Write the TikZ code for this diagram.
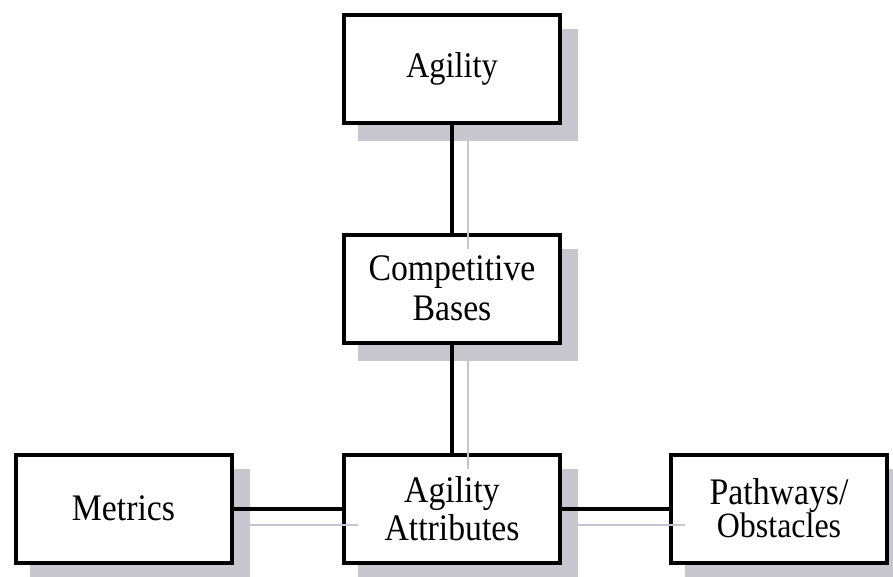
\documentclass[tikz,border=0pt]{standalone}
\usepackage{fontspec}
\setmainfont[FakeStretch=0.9]{Liberation Serif}
\usetikzlibrary{backgrounds,calc}
\definecolor{shadowgray}{RGB}{200,198,206}
\definecolor{ghostline}{RGB}{196,196,212}
\tikzset{
  box/.style={draw=black, line width=4pt, fill=white, minimum width=216pt,
    minimum height=108pt, inner sep=0pt, align=center},
  link/.style={draw=black, line width=4pt},
  ghost/.style={draw=ghostline, line width=2pt},
  boxshadow/.style={fill=shadowgray},
}
\begin{document}
\begin{tikzpicture}[x=1pt,y=1pt]
  \useasboundingbox (0,0) rectangle (893,-576);

  % boxes
  \node[box, font=\fontsize{36}{40}\selectfont] (agility) at (452,-69) {Agility};
  \node[box, font=\fontsize{37.5}{40}\selectfont] (bases) at (452,-288.5) {Competitive\\Bases};
  \node[box, font=\fontsize{37.5}{38}\selectfont] (attr) at (452,-508.5) {Agility\\Attributes};
  \node[box, font=\fontsize{37.5}{40}\selectfont] (metrics) at (123.5,-508.5) {Metrics};
  \node[box, font=\fontsize{37.5}{33}\selectfont] (paths) at (779,-508.5)
    {Pathways/\\{\fontsize{35.5}{33}\selectfont Obstacles}};

  % drop shadows behind the boxes
  \begin{scope}[on background layer]
    \foreach \n in {agility,bases,metrics,attr,paths}
      \fill[boxshadow] ($(\n.south west)+(16,-16)$) rectangle ($(\n.north east)+(16,-16)$);
  \end{scope}

  % connectors
  \draw[link] (agility.south) -- (bases.north);
  \draw[link] (bases.south) -- (attr.north);
  \draw[link] (metrics.east) -- (attr.west);
  \draw[link] (attr.east) -- (paths.west);

  % shadows of the connectors
  \draw[ghost] ($(agility.south)+(16,-16)$) -- ($(bases.north)+(16,-16)$);
  \draw[ghost] ($(bases.south)+(16,-16)$) -- ($(attr.north)+(16,-16)$);
  \draw[ghost] ($(metrics.east)+(16,-16)$) -- ($(attr.west)+(16,-16)$);
  \draw[ghost] ($(attr.east)+(16,-16)$) -- ($(paths.west)+(16,-16)$);
\end{tikzpicture}
\end{document}
